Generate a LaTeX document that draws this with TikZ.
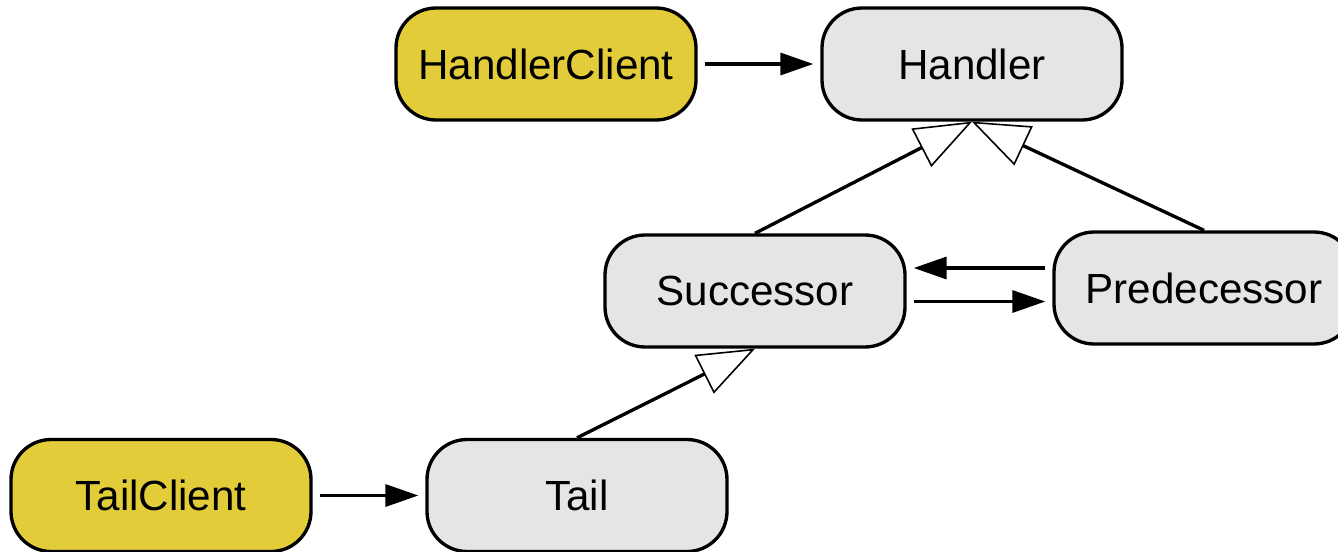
\documentclass[tikz,border=0pt]{standalone}
\usepackage{fontspec}
\setmainfont{Liberation Sans}
\usetikzlibrary{arrows.meta}
\definecolor{clientyellow}{RGB}{226,204,58}
\definecolor{classgray}{RGB}{229,229,229}

\begin{document}
\begin{tikzpicture}[
        cls/.style = {draw, line width=1.9pt, rounded corners=0.8cm, fill=classgray,
            minimum width=6cm, minimum height=2.24cm, inner sep=0pt,
            font=\fontsize{24}{28}\selectfont},
        client/.style = {cls, fill=clientyellow},
        uses/.style = {line width=1.9pt, -{Triangle[length=0.66cm, width=0.44cm]},
            shorten >=0.14cm, shorten <=0.14cm},
        inherit/.style = {line width=1.9pt,
            -{Triangle[open, length=1.14cm, width=0.86cm, line width=0.9pt, fill=white]}}
    ]
        \useasboundingbox (0, 0) rectangle (26.76, -11.02);
        \node[client] (handlerclient) at (10.92, -1.28) {HandlerClient};
        \node[cls] (handler) at (19.44, -1.28) {Handler};
        \node[cls] (successor) at (15.1, -5.82) {Successor};
        \node[cls] (predecessor) at (24.08, -5.76) {Predecessor};
        \node[client] (tailclient) at (3.22, -9.91) {TailClient};
        \node[cls] (tail) at (11.54, -9.91) {Tail};

        \draw[uses] (handlerclient) -- (handler);
        \draw[uses] (tailclient) -- (tail);
        \draw[uses] (predecessor.west |- 0, -5.36) -- (successor.east |- 0, -5.36);
        \draw[uses] (successor.east |- 0, -6.03) -- (predecessor.west |- 0, -6.03);

        \draw[inherit] (successor.north) -- (handler.south);
        \draw[inherit] (predecessor.north) -- (handler.south);
        \draw[inherit] (tail.north) -- (successor.south);
    \end{tikzpicture}
\end{document}
